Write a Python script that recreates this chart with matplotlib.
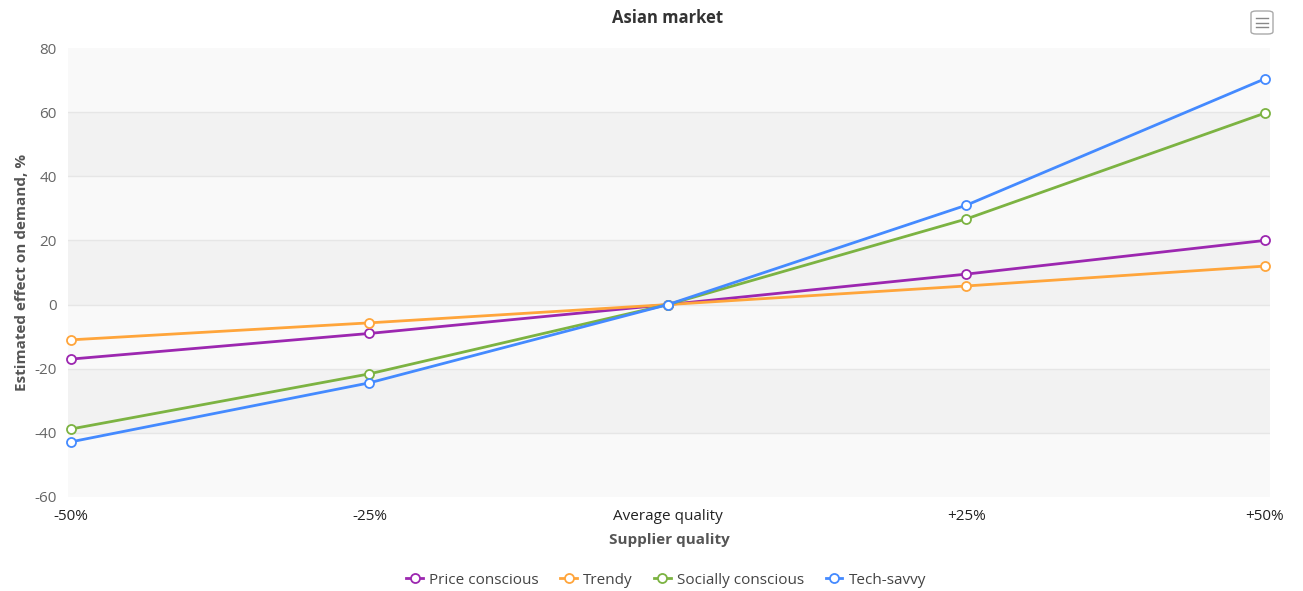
import numpy as np
import matplotlib
matplotlib.use("Agg")
import matplotlib.pyplot as plt
from matplotlib.patches import FancyBboxPatch
from matplotlib.lines import Line2D

plt.rcParams['font.family'] = ['Open Sans', 'DejaVu Sans']

categories = ["-50%", "-25%", "Average quality", "+25%", "+50%"]
series_names = ["Price conscious", "Trendy", "Socially conscious", "Tech-savvy"]
price_conscious = [-17, -9, 0, 9.5, 20]
trendy = [-11, -5.7, 0, 5.8, 12]
socially_conscious = [-38.8, -21.6, 0, 26.7, 59.7]
tech_savvy = [-42.8, -24.4, 0, 31, 70.4]
colors = ["#9c27b0", "#ffa53b", "#7cb342", "#448aff"]

W, H = 1303, 591
fig = plt.figure(figsize=(W/100, H/100), dpi=100)
ax = fig.add_axes([68/W, (H-497)/H, (1270-68)/W, (497-48)/H])

x = np.arange(len(categories))
# alternating bands
yt = np.arange(-60, 81, 20)
for i, (a, b) in enumerate(zip(yt[:-1], yt[1:])):
    ax.axhspan(a, b, color="#f9f9f9" if i % 2 == 0 else "#f2f2f2", lw=0, zorder=0)
for v in yt[1:-1]:
    ax.axhline(v, color="#e6e6e6", lw=1, zorder=1)

for vals, c, name in zip([price_conscious, trendy, socially_conscious, tech_savvy], colors, series_names):
    ax.plot(x, vals, color=c, lw=2, marker="o", ms=6.5, mfc="white", mec=c, mew=1.3,
            label=name, zorder=3, clip_on=False)

ax.set_xlim(-0.01, 4.017)
ax.set_ylim(-60, 80)
ax.set_yticks(yt)
ax.set_yticklabels([str(v) for v in yt], color="#666666", fontsize=11)
ax.set_xticks(x)
ax.set_xticklabels(categories, color="#222222", fontsize=11)
ax.tick_params(length=0, pad=9)
ax.tick_params(axis="y", pad=8)
for s in ax.spines.values():
    s.set_visible(False)

ax.set_xlabel("Supplier quality", fontsize=11, fontweight="bold", color="#555555", labelpad=6)
ax.set_ylabel("Estimated effect on demand, %", fontsize=11, fontweight="bold", color="#555555", labelpad=4)
fig.text(668/W, 1-18/H, "Asian market", ha="center", va="center", fontsize=12, fontweight="bold", color="#333333")

handles = [Line2D([0], [0], color=c, lw=2, marker="o", ms=6.5, mfc="white", mec=c, mew=1.3) for c in colors]
fig.legend(handles, series_names, loc="center", bbox_to_anchor=(666/W, 1-580/H), ncol=4, frameon=False,
           fontsize=11, handlelength=1.1, columnspacing=1.4, handletextpad=0.4, labelcolor="#444444")

# menu icon
box = FancyBboxPatch((1251/W, 1-34/H), 22/W, 23/H, boxstyle="round,pad=0,rounding_size=0.004",
                     transform=fig.transFigure, fc="white", ec="#aaaaaa", lw=1)
fig.add_artist(box)
for yy in [18, 22.5, 27]:
    fig.add_artist(Line2D([1256/W, 1268/W], [1-yy/H, 1-yy/H], transform=fig.transFigure, color="#888888", lw=1))

fig.savefig("out.png", dpi=100, facecolor="white")
